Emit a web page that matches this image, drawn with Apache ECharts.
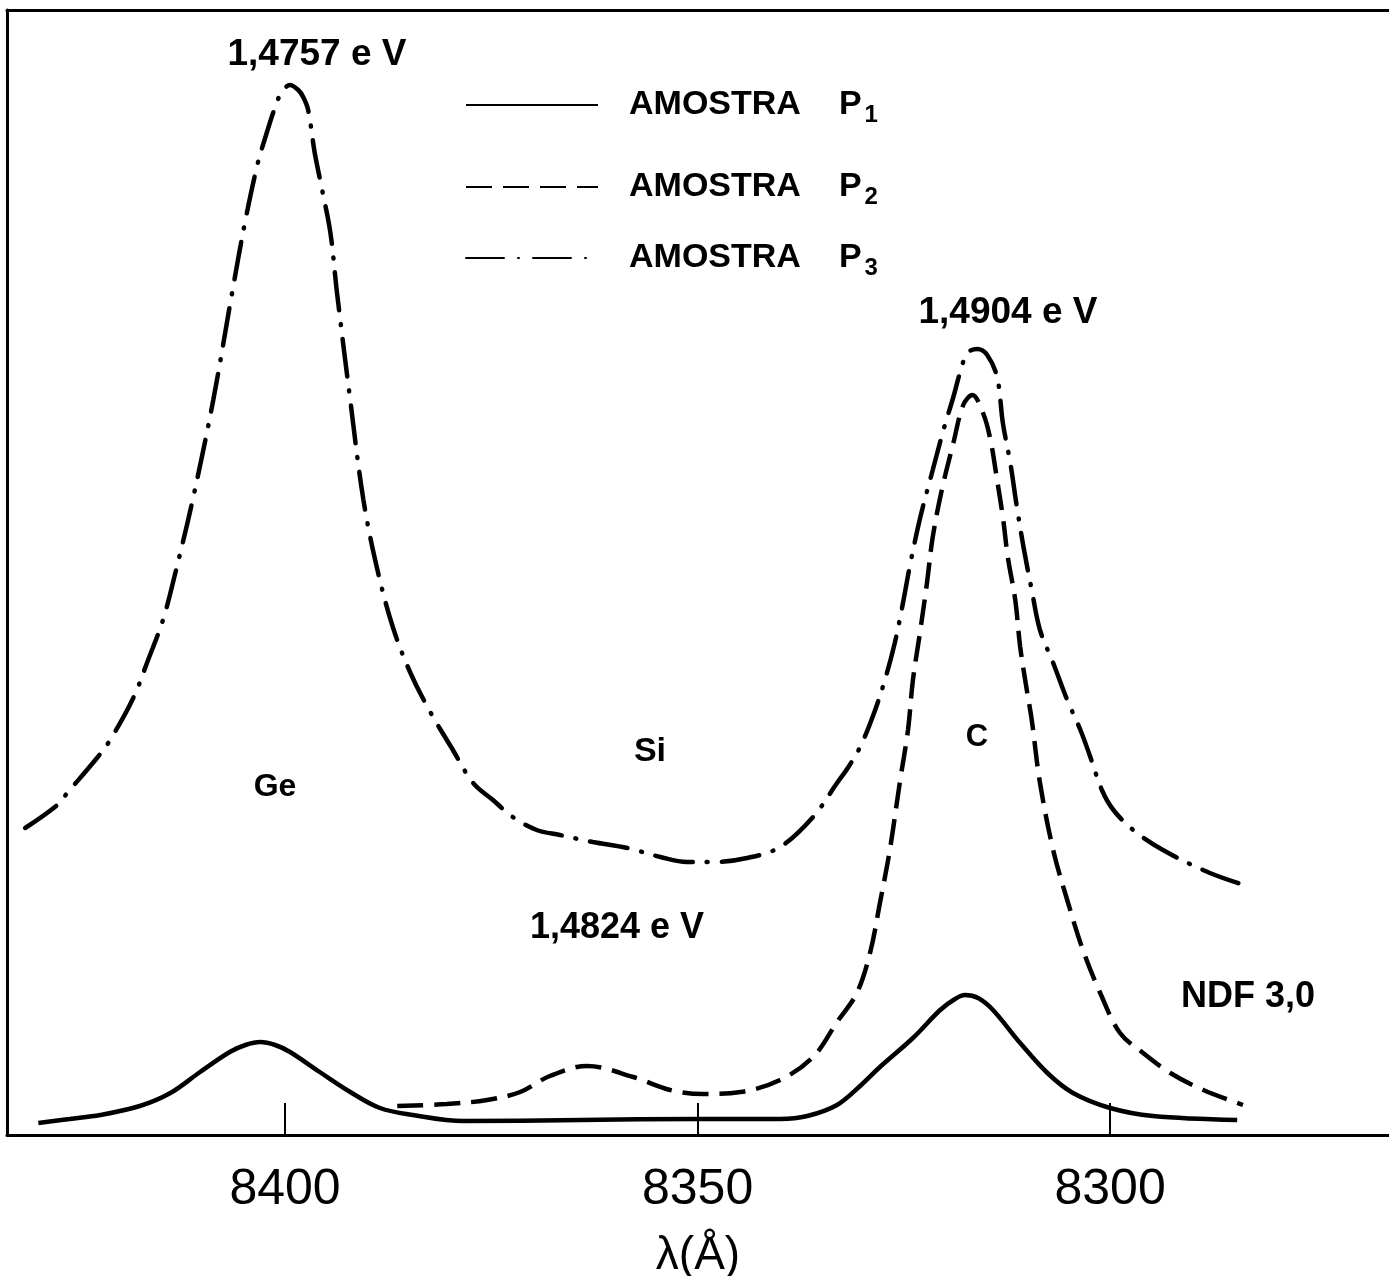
<!DOCTYPE html>
<html>
<head>
<meta charset="utf-8">
<title>Fotoluminescência — amostras P1, P2, P3</title>
<script src="https://cdn.jsdelivr.net/npm/echarts@6/dist/echarts.min.js"></script>
<style>
  html, body { margin: 0; padding: 0; background: #fff; }
  #chart { width: 1389px; height: 1276px; }
</style>
</head>
<body>
<div id="chart"></div>
<script>
// Wavelength (Å) and relative intensity (arbitrary units) for each sample
const p1Lambda = [8429.9, 8426.1, 8422.4, 8417.6, 8413.9, 8410.3, 8406.7, 8404.8, 8403.0, 8401.2,
  8399.4, 8395.8, 8392.1, 8388.5, 8384.5, 8378.4, 8364.2, 8350.1, 8340.0, 8336.7,
  8333.1, 8330.3, 8327.9, 8323.9, 8320.6, 8318.8, 8317.6, 8316.0, 8314.2, 8310.9,
  8307.6, 8304.5, 8300.0, 8294.8, 8284.6];
const p1Intensity = [1.2, 1.6, 2.0, 2.9, 4.2, 6.3, 8.3, 9.0, 9.3, 9.0,
  8.3, 6.3, 4.3, 2.7, 2.0, 1.4, 1.5, 1.6, 1.6, 1.9,
  3.0, 4.9, 6.8, 9.7, 12.5, 13.6, 14.0, 13.7, 12.5, 9.2,
  6.2, 4.2, 2.7, 1.9, 1.5];

const p2Lambda = [8386.4, 8380.4, 8375.5, 8371.5, 8367.9, 8363.4, 8357.8, 8353.3, 8349.3, 8344.8,
  8340.0, 8336.0, 8333.1, 8330.7, 8329.1, 8327.9, 8326.7, 8325.5, 8324.5, 8323.9,
  8323.0, 8322.2, 8321.5, 8320.4, 8319.0, 8317.8, 8316.7, 8315.4, 8314.5, 8313.7,
  8313.0, 8312.4, 8311.5, 8310.9, 8310.1, 8309.5, 8308.5, 8306.9, 8305.2, 8303.3,
  8301.2, 8298.8, 8296.0, 8292.7, 8288.7, 8283.9];
const p2Intensity = [2.9, 3.1, 3.5, 4.3, 5.9, 6.9, 5.8, 4.5, 4.1, 4.3,
  5.5, 7.8, 11.3, 14.2, 18.2, 23.2, 28.5, 35.2, 40.5, 45.5,
  50.5, 55.2, 59.8, 64.5, 69.2, 73.0, 74.0, 72.2, 69.5, 65.5,
  61.8, 57.8, 53.5, 48.8, 44.5, 41.5, 35.2, 28.5, 23.5, 18.5,
  14.2, 10.2, 8.2, 6.2, 4.5, 3.0];

const p3Lambda = [8431.5, 8427.6, 8426.4, 8422.8, 8421.2, 8418.4, 8416.6, 8414.8, 8413.3, 8411.2,
  8408.7, 8406.4, 8404.8, 8403.3, 8402.3, 8401.2, 8400.4, 8399.4, 8398.4, 8397.8,
  8397.2, 8396.4, 8395.5, 8394.5, 8393.7, 8392.1, 8390.5, 8388.8, 8386.9, 8384.8,
  8382.4, 8379.8, 8377.2, 8374.8, 8372.4, 8369.5, 8366.7, 8362.7, 8358.5, 8354.5,
  8351.3, 8348.1, 8344.0, 8340.0, 8336.0, 8333.1, 8331.8, 8330.3, 8328.7, 8327.3,
  8326.1, 8325.2, 8324.2, 8323.0, 8321.5, 8320.2, 8319.0, 8318.2, 8317.3, 8316.1,
  8314.9, 8313.7, 8313.0, 8312.1, 8311.3, 8310.5, 8309.5, 8308.5, 8306.9, 8305.2,
  8303.6, 8302.4, 8301.0, 8299.6, 8297.2, 8293.6, 8287.9, 8283.0];
const p3Intensity = [30.7, 33.0, 34.2, 37.7, 39.5, 43.7, 47.5, 51.5, 56.2, 63.5,
  73.5, 84.3, 91.5, 97.2, 100.0, 102.8, 104.3, 105.0, 104.5, 103.8,
  102.5, 98.2, 94.5, 90.2, 84.2, 73.5, 63.5, 56.5, 50.7, 46.2,
  42.3, 38.7, 35.2, 33.5, 31.8, 30.5, 30.0, 29.3, 28.7, 27.8,
  27.3, 27.3, 27.7, 28.8, 31.8, 35.2, 36.7, 38.8, 42.0, 45.5,
  49.2, 52.8, 57.2, 61.8, 66.5, 70.5, 73.8, 76.2, 78.2, 78.6,
  78.0, 75.8, 71.2, 67.2, 62.8, 58.8, 54.5, 50.5, 47.2, 43.5,
  40.5, 37.8, 34.5, 32.5, 30.5, 28.5, 26.2, 24.8];

const sampleNames = ['AMOSTRA P1', 'AMOSTRA P2', 'AMOSTRA P3'];
const sampleSubscripts = ['1', '2', '3'];
const tickWavelengths = [8300, 8350, 8400];

const FONT = 'Liberation Sans, Arial, Helvetica, sans-serif';

function pairs(xs, ys) {
  return xs.map((x, i) => [x, ys[i]]);
}

const legendRich = {
  a: { fontFamily: FONT, fontWeight: 'bold', fontSize: 34, color: '#000' },
  g: { width: 38, fontSize: 34 },
  p: { fontFamily: FONT, fontWeight: 'bold', fontSize: 34, color: '#000' },
  s: { fontFamily: FONT, fontWeight: 'bold', fontSize: 24, color: '#000', padding: [20, 0, 0, 3] }
};

function legendFor(index, top) {
  return {
    data: [sampleNames[index]],
    left: 465,
    top: top,
    padding: 0,
    itemWidth: 132,
    itemHeight: 4,
    selectedMode: false,
    itemStyle: { opacity: 0 },
    formatter: () => '{a|AMOSTRA}{g| }{p|P}{s|' + sampleSubscripts[index] + '}',
    textStyle: { padding: [0, 0, 0, 26], rich: legendRich }
  };
}

const lineBase = { color: '#000', width: 4.5 };

const chart = echarts.init(document.getElementById('chart'), null, { renderer: 'canvas' });

chart.setOption({
  backgroundColor: '#fff',
  animation: false,
  grid: { left: 7, right: 0, top: 10, bottom: 141, containLabel: false, outerBoundsMode: 'none' },
  legend: [legendFor(0, 88), legendFor(1, 170), legendFor(2, 241)],
  xAxis: [
    {
      type: 'value',
      inverse: true,
      min: 8266.2,
      max: 8433.7,
      position: 'bottom',
      axisLine: { onZero: false, lineStyle: { color: '#000', width: 3 } },
      axisTick: { inside: true, length: 32, customValues: tickWavelengths, lineStyle: { color: '#000', width: 2 } },
      axisLabel: {
        customValues: tickWavelengths,
        formatter: (v) => String(Math.round(v)),
        fontFamily: FONT, fontSize: 50, color: '#000', margin: 30
      },
      splitLine: { show: false },
      name: 'λ(Å)',
      nameLocation: 'middle',
      nameGap: 98,
      nameTextStyle: { fontFamily: FONT, fontSize: 46, color: '#000' }
    },
    {
      type: 'value',
      inverse: true,
      min: 8266.2,
      max: 8433.7,
      position: 'top',
      axisLine: { onZero: false, lineStyle: { color: '#000', width: 3 } },
      axisTick: { show: false },
      axisLabel: { show: false },
      splitLine: { show: false }
    }
  ],
  yAxis: {
    type: 'value',
    min: 0,
    max: 112.5,
    axisLine: { show: true, onZero: false, lineStyle: { color: '#000', width: 3 } },
    axisTick: { show: false },
    axisLabel: { show: false },
    splitLine: { show: false }
  },
  series: [
    {
      name: sampleNames[0], type: 'line', xAxisIndex: 0, symbol: 'none', smooth: 0.35,
      lineStyle: Object.assign({}, lineBase, { type: 'solid' }),
      data: pairs(p1Lambda, p1Intensity)
    },
    {
      name: sampleNames[1], type: 'line', xAxisIndex: 0, symbol: 'none', smooth: 0.35,
      lineStyle: Object.assign({}, lineBase, { type: [26, 11], cap: 'butt' }),
      data: pairs(p2Lambda, p2Intensity)
    },
    {
      name: sampleNames[2], type: 'line', xAxisIndex: 0, symbol: 'none', smooth: 0.35,
      lineStyle: Object.assign({}, lineBase, { type: [38, 14, 1, 14], cap: 'round' }),
      data: pairs(p3Lambda, p3Intensity)
    }
  ],
  graphic: [
    { type: 'text', x: 317, y: 55, style: { text: '1,4757 e V', font: 'bold 37px ' + FONT, fill: '#000', align: 'center', verticalAlign: 'middle', textAlign: 'center', textVerticalAlign: 'middle' } },
    { type: 'text', x: 1008, y: 313, style: { text: '1,4904 e V', font: 'bold 37px ' + FONT, fill: '#000', align: 'center', verticalAlign: 'middle', textAlign: 'center', textVerticalAlign: 'middle' } },
    { type: 'text', x: 617, y: 928, style: { text: '1,4824 e V', font: 'bold 36px ' + FONT, fill: '#000', align: 'center', verticalAlign: 'middle', textAlign: 'center', textVerticalAlign: 'middle' } },
    { type: 'text', x: 275, y: 787, style: { text: 'Ge', font: 'bold 32px ' + FONT, fill: '#000', align: 'center', verticalAlign: 'middle', textAlign: 'center', textVerticalAlign: 'middle' } },
    { type: 'text', x: 650, y: 752, style: { text: 'Si', font: 'bold 34px ' + FONT, fill: '#000', align: 'center', verticalAlign: 'middle', textAlign: 'center', textVerticalAlign: 'middle' } },
    { type: 'text', x: 977, y: 737, style: { text: 'C', font: 'bold 31px ' + FONT, fill: '#000', align: 'center', verticalAlign: 'middle', textAlign: 'center', textVerticalAlign: 'middle' } },
    { type: 'text', x: 1248, y: 997, style: { text: 'NDF 3,0', font: 'bold 36px ' + FONT, fill: '#000', align: 'center', verticalAlign: 'middle', textAlign: 'center', textVerticalAlign: 'middle' } }
  ]
});
</script>
</body>
</html>
